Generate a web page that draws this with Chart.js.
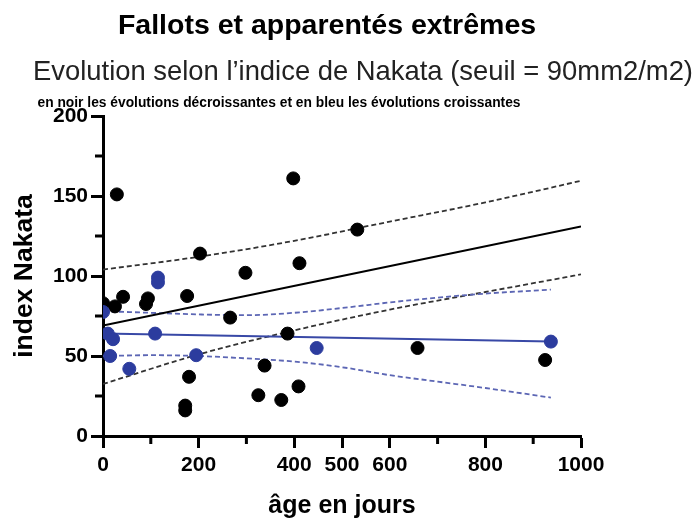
<!DOCTYPE html>
<html>
<head>
<meta charset="utf-8">
<script src="https://cdn.jsdelivr.net/npm/chart.js@4/dist/chart.umd.min.js"></script>
<style>
  body { margin: 0; background: #fff; }
  #wrap { position: relative; width: 696px; height: 519px; font-family: "Liberation Sans", Arial, sans-serif; color: #000; }
  #wrap canvas { position: absolute; left: 0; top: 0; }
  .txt { position: absolute; white-space: nowrap; text-align: center; }
  #title { left: 0; width: 654px; top: 10px; font-size: 28.5px; line-height: 29px; font-weight: bold; }
  #subtitle { left: 0; width: 726px; top: 57px; font-size: 27.4px; line-height: 27px; color: #222; }
  #note { left: 0; width: 558px; top: 96px; font-size: 13.8px; line-height: 14px; font-weight: bold; }
</style>
</head>
<body>
<div id="wrap">
  <canvas id="chart" width="696" height="519"></canvas>
  <div class="txt" id="title">Fallots et apparentés extrêmes</div>
  <div class="txt" id="subtitle">Evolution selon l’indice de Nakata (seuil = 90mm2/m2)</div>
  <div class="txt" id="note">en noir les évolutions décroissantes et en bleu les évolutions croissantes</div>
</div>
<script>
// points (age in days, Nakata index)
const blackAge = [0, 25, 42, 29, 90, 94, 176, 203, 180, 172, 172, 266, 298, 325, 338, 373, 386, 398, 409, 411, 532, 658, 925];
const blackIndex = [83, 81, 87, 151, 82.5, 86, 87.5, 114, 37, 19, 16, 74, 102, 25.5, 44, 22.5, 64, 161, 31, 108, 129, 55, 47.5];
const blueAge = [0, 10, 21, 15, 55, 109, 115, 115, 195, 447, 937];
const blueIndex = [77.5, 64, 60.5, 50, 42, 64, 99, 96, 50.5, 55, 59];

// regression lines and confidence bands
const blackFitAge = [0, 1000];
const blackFitIndex = [69, 131];
const blackBandAge = [0, 200, 400, 600, 800, 1000];
const blackUpper = [104, 112, 122, 134, 146, 159.5];
const blackLower = [32.5, 51, 66, 79, 90, 101];
const blueFitAge = [0, 937];
const blueFitIndex = [64, 59];
const blueBandAge = [0, 100, 200, 300, 400, 500, 600, 700, 800, 937];
const blueUpper = [78, 77, 76, 75.5, 77, 80, 83.5, 86.5, 89, 91.5];
const blueLower = [50, 50.5, 50, 48.5, 46.5, 43, 38, 34, 30, 24];

// axis ticks
const xMajor = [0, 200, 400, 500, 600, 800, 1000];
const xMinor = [100, 300, 700, 900];
const yMajor = [0, 50, 100, 150, 200];
const yMinor = [25, 75, 125, 175];

const BLUE = "#2c3c9e";
const FONT = "'Liberation Sans', Arial, sans-serif";

function pts(xs, ys) {
  return xs.map((x, i) => ({ x: x, y: ys[i] }));
}

function lineSet(xs, ys, color, width, dash) {
  return {
    type: "line",
    data: pts(xs, ys),
    borderColor: color,
    borderWidth: width,
    borderDash: dash,
    pointRadius: 0,
    showLine: true,
    fill: false,
    cubicInterpolationMode: "monotone",
  };
}

const minorTicks = {
  id: "minorTicks",
  afterDraw(chart) {
    const { ctx, chartArea, scales } = chart;
    ctx.save();
    ctx.strokeStyle = "#000";
    ctx.lineWidth = 3;
    ctx.beginPath();
    xMinor.forEach((v) => {
      const px = scales.x.getPixelForValue(v);
      ctx.moveTo(px, chartArea.bottom);
      ctx.lineTo(px, chartArea.bottom + 8);
    });
    yMinor.forEach((v) => {
      const py = scales.y.getPixelForValue(v);
      ctx.moveTo(chartArea.left, py);
      ctx.lineTo(chartArea.left - 8, py);
    });
    ctx.stroke();
    ctx.restore();
  },
};

new Chart(document.getElementById("chart"), {
  type: "scatter",
  data: {
    datasets: [
      { data: pts(blueAge, blueIndex), backgroundColor: BLUE, borderColor: BLUE, pointRadius: 6.5, pointHoverRadius: 6.5 },
      { data: pts(blackAge, blackIndex), backgroundColor: "#000", borderColor: "#000", pointRadius: 6.5, pointHoverRadius: 6.5 },
      lineSet(blueFitAge, blueFitIndex, "#3848a6", 2, []),
      lineSet(blackFitAge, blackFitIndex, "#000", 2, []),
      lineSet(blueBandAge, blueUpper, "#5c66b4", 1.8, [5, 3]),
      lineSet(blueBandAge, blueLower, "#5c66b4", 1.8, [5, 3]),
      lineSet(blackBandAge, blackUpper, "#333", 1.8, [5, 3]),
      lineSet(blackBandAge, blackLower, "#333", 1.8, [5, 3]),
    ],
  },
  options: {
    responsive: false,
    animation: false,
    events: [],
    layout: { padding: { top: 116, right: 115, left: 0, bottom: 0 } },
    plugins: { legend: { display: false }, tooltip: { enabled: false } },
    scales: {
      x: {
        type: "linear",
        min: 0,
        max: 1000,
        afterBuildTicks: (s) => { s.ticks = xMajor.map((v) => ({ value: v })); },
        afterFit: (s) => { s.height = 83; },
        border: { display: true, width: 3, color: "#000" },
        grid: { drawOnChartArea: false, drawTicks: true, tickLength: 12, tickWidth: 3, tickColor: "#000" },
        ticks: { color: "#000", autoSkip: false, maxRotation: 0, padding: 5, callback: (v) => String(v), font: { family: FONT, size: 21, weight: "bold" } },
        title: { display: true, text: "âge en jours", color: "#000", padding: { top: 0, bottom: 0 }, font: { family: FONT, size: 25, weight: "bold", lineHeight: 1.0 } },
      },
      y: {
        type: "linear",
        min: 0,
        max: 200,
        afterBuildTicks: (s) => { s.ticks = yMajor.map((v) => ({ value: v })); },
        afterFit: (s) => { s.width = 103; },
        border: { display: true, width: 3, color: "#000" },
        grid: { drawOnChartArea: false, drawTicks: true, tickLength: 12, tickWidth: 3, tickColor: "#000" },
        ticks: { color: "#000", autoSkip: false, padding: 3, callback: (v) => String(v), font: { family: FONT, size: 21, weight: "bold" } },
        title: { display: true, text: "index Nakata", color: "#000", padding: { top: 9, bottom: 0 }, font: { family: FONT, size: 26.5, weight: "bold", lineHeight: 1.2 } },
      },
    },
  },
  plugins: [minorTicks],
});
</script>
</body>
</html>
